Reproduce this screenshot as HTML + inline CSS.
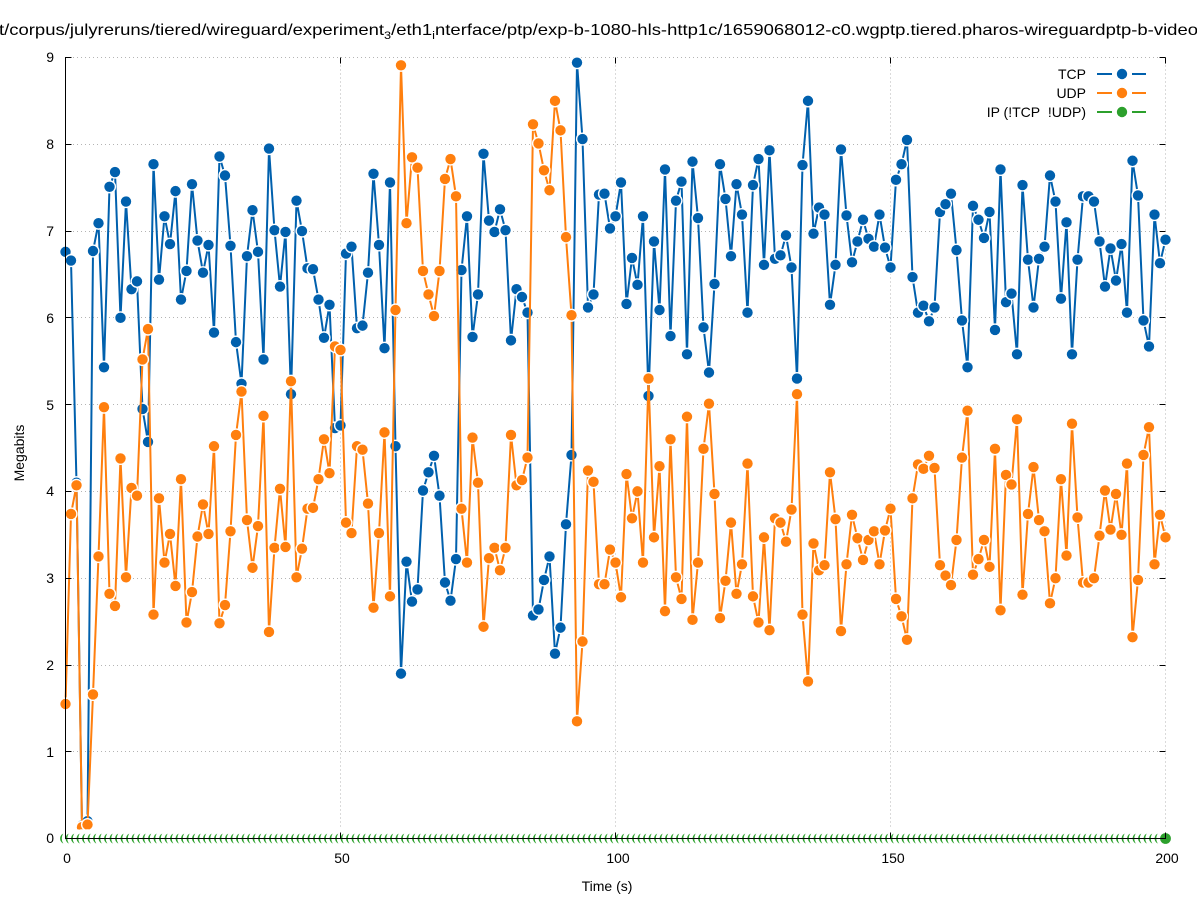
<!DOCTYPE html>
<html><head><meta charset="utf-8"><style>
html,body{margin:0;padding:0;background:#fff;}
svg{display:block;}
text{font-family:"Liberation Sans","DejaVu Sans",sans-serif;fill:#000;}
</style></head><body>
<svg width="1197" height="900" viewBox="0 0 1197 900" xmlns="http://www.w3.org/2000/svg">
<defs>
<marker id="mb" markerUnits="userSpaceOnUse" refX="0" refY="0" markerWidth="1" markerHeight="1" overflow="visible" style="overflow:visible"><g transform="scale(0.181818,-0.0115234)"><circle r="6.6" fill="#fff"/><circle r="5.2" fill="#0060ad"/></g></marker>
<marker id="mo" markerUnits="userSpaceOnUse" refX="0" refY="0" markerWidth="1" markerHeight="1" overflow="visible" style="overflow:visible"><g transform="scale(0.181818,-0.0115234)"><circle r="6.6" fill="#fff"/><circle r="5.2" fill="#ff7f0e"/></g></marker>
<marker id="mg" markerUnits="userSpaceOnUse" refX="0" refY="0" markerWidth="1" markerHeight="1" overflow="visible" style="overflow:visible"><g transform="scale(0.181818,-0.0115234)"><circle r="9.2" fill="#fff"/><circle r="5.4" fill="#2ca02c"/></g></marker>
</defs>
<rect width="1197" height="900" fill="#fff"/>
<!-- title -->
<text x="-1" y="35" font-size="16" textLength="1199" lengthAdjust="spacingAndGlyphs">t/corpus/julyreruns/tiered/wireguard/experiment<tspan dy="4" font-size="11">3</tspan><tspan dy="-4">/eth1</tspan><tspan dy="4" font-size="11">i</tspan><tspan dy="-4">nterface/ptp/exp-b-1080-hls-http1c/1659068012-c0.wgptp.tiered.pharos-wireguardptp-b-video</tspan></text>
<!-- grid -->
<g stroke="#b4b4b4" stroke-width="1" stroke-dasharray="1,3" fill="none">
<line x1="65" y1="751.5" x2="1165" y2="751.5"/>
<line x1="65" y1="665.5" x2="1165" y2="665.5"/>
<line x1="65" y1="578.5" x2="1165" y2="578.5"/>
<line x1="65" y1="491.5" x2="1165" y2="491.5"/>
<line x1="65" y1="404.5" x2="1165" y2="404.5"/>
<line x1="65" y1="317.5" x2="1165" y2="317.5"/>
<line x1="65" y1="231.5" x2="1165" y2="231.5"/>
<line x1="65" y1="144.5" x2="1165" y2="144.5"/>
<line x1="65" y1="57.5" x2="1165" y2="57.5"/>
<line x1="340.5" y1="57.5" x2="340.5" y2="838.5"/>
<line x1="615.5" y1="57.5" x2="615.5" y2="838.5"/>
<line x1="890.5" y1="57.5" x2="890.5" y2="838.5"/>
<line x1="1165.5" y1="57.5" x2="1165.5" y2="838.5"/>
</g>
<!-- data -->
<g transform="translate(65.5 838.5) scale(5.5 -86.78)" fill="none" stroke-linejoin="round">
<polyline vector-effect="non-scaling-stroke" stroke="#0060ad" stroke-width="2" marker-start="url(#mb)" marker-mid="url(#mb)" marker-end="url(#mb)" points="0,6.76 1,6.66 2,4.1 3,0.15 4,0.2 5,6.77 6,7.09 7,5.43 8,7.51 9,7.68 10,6 11,7.34 12,6.33 13,6.42 14,4.95 15,4.57 16,7.77 17,6.44 18,7.17 19,6.85 20,7.46 21,6.21 22,6.54 23,7.54 24,6.89 25,6.52 26,6.84 27,5.83 28,7.86 29,7.64 30,6.83 31,5.72 32,5.24 33,6.71 34,7.24 35,6.76 36,5.52 37,7.95 38,7.01 39,6.36 40,6.99 41,5.12 42,7.35 43,7 44,6.57 45,6.56 46,6.21 47,5.77 48,6.15 49,4.73 50,4.76 51,6.74 52,6.82 53,5.88 54,5.91 55,6.52 56,7.66 57,6.84 58,5.65 59,7.56 60,4.52 61,1.9 62,3.19 63,2.73 64,2.87 65,4.01 66,4.22 67,4.41 68,3.95 69,2.95 70,2.74 71,3.22 72,6.55 73,7.17 74,5.78 75,6.27 76,7.89 77,7.12 78,6.99 79,7.25 80,7.01 81,5.74 82,6.33 83,6.24 84,6.06 85,2.57 86,2.64 87,2.98 88,3.25 89,2.13 90,2.43 91,3.62 92,4.42 93,8.94 94,8.06 95,6.12 96,6.27 97,7.42 98,7.43 99,7.03 100,7.17 101,7.56 102,6.16 103,6.69 104,6.38 105,7.17 106,5.1 107,6.88 108,6.09 109,7.71 110,5.79 111,7.35 112,7.57 113,5.58 114,7.8 115,7.15 116,5.89 117,5.37 118,6.39 119,7.77 120,7.37 121,6.71 122,7.54 123,7.19 124,6.06 125,7.53 126,7.83 127,6.61 128,7.93 129,6.68 130,6.72 131,6.95 132,6.58 133,5.3 134,7.76 135,8.5 136,6.97 137,7.27 138,7.19 139,6.15 140,6.61 141,7.94 142,7.18 143,6.64 144,6.88 145,7.13 146,6.91 147,6.82 148,7.19 149,6.81 150,6.58 151,7.59 152,7.77 153,8.05 154,6.47 155,6.06 156,6.14 157,5.96 158,6.12 159,7.22 160,7.31 161,7.43 162,6.78 163,5.97 164,5.43 165,7.29 166,7.13 167,6.92 168,7.22 169,5.86 170,7.71 171,6.18 172,6.28 173,5.58 174,7.53 175,6.67 176,6.12 177,6.68 178,6.82 179,7.64 180,7.34 181,6.22 182,7.1 183,5.58 184,6.67 185,7.4 186,7.4 187,7.34 188,6.88 189,6.36 190,6.8 191,6.43 192,6.85 193,6.06 194,7.81 195,7.41 196,5.97 197,5.67 198,7.19 199,6.63 200,6.9"/>
<polyline vector-effect="non-scaling-stroke" stroke="#ff7f0e" stroke-width="2" marker-start="url(#mo)" marker-mid="url(#mo)" marker-end="url(#mo)" points="0,1.55 1,3.74 2,4.07 3,0.13 4,0.16 5,1.66 6,3.25 7,4.97 8,2.82 9,2.68 10,4.38 11,3.01 12,4.04 13,3.95 14,5.52 15,5.87 16,2.58 17,3.92 18,3.18 19,3.51 20,2.91 21,4.14 22,2.49 23,2.84 24,3.48 25,3.85 26,3.51 27,4.52 28,2.48 29,2.69 30,3.54 31,4.65 32,5.15 33,3.67 34,3.12 35,3.6 36,4.87 37,2.38 38,3.35 39,4.03 40,3.36 41,5.27 42,3.01 43,3.34 44,3.8 45,3.81 46,4.14 47,4.6 48,4.21 49,5.67 50,5.63 51,3.64 52,3.52 53,4.52 54,4.48 55,3.86 56,2.66 57,3.52 58,4.68 59,2.79 60,6.09 61,8.91 62,7.09 63,7.85 64,7.73 65,6.54 66,6.27 67,6.02 68,6.54 69,7.6 70,7.83 71,7.4 72,3.8 73,3.18 74,4.62 75,4.1 76,2.44 77,3.23 78,3.35 79,3.09 80,3.35 81,4.65 82,4.07 83,4.13 84,4.39 85,8.23 86,8.01 87,7.7 88,7.47 89,8.5 90,8.16 91,6.93 92,6.03 93,1.35 94,2.27 95,4.24 96,4.11 97,2.93 98,2.93 99,3.33 100,3.18 101,2.78 102,4.2 103,3.69 104,4 105,3.18 106,5.3 107,3.47 108,4.29 109,2.62 110,4.6 111,3.01 112,2.76 113,4.86 114,2.52 115,3.18 116,4.49 117,5.01 118,3.97 119,2.54 120,2.97 121,3.64 122,2.82 123,3.16 124,4.32 125,2.79 126,2.49 127,3.47 128,2.4 129,3.69 130,3.64 131,3.42 132,3.79 133,5.12 134,2.58 135,1.81 136,3.4 137,3.09 138,3.15 139,4.22 140,3.68 141,2.39 142,3.16 143,3.73 144,3.46 145,3.21 146,3.44 147,3.54 148,3.16 149,3.55 150,3.8 151,2.76 152,2.56 153,2.29 154,3.92 155,4.31 156,4.26 157,4.41 158,4.27 159,3.15 160,3.03 161,2.92 162,3.44 163,4.39 164,4.93 165,3.04 166,3.22 167,3.44 168,3.13 169,4.49 170,2.63 171,4.19 172,4.08 173,4.83 174,2.81 175,3.74 176,4.28 177,3.67 178,3.54 179,2.71 180,3 181,4.14 182,3.26 183,4.78 184,3.7 185,2.95 186,2.95 187,3 188,3.49 189,4.01 190,3.56 191,3.97 192,3.5 193,4.32 194,2.32 195,2.98 196,4.42 197,4.74 198,3.16 199,3.73 200,3.47"/>
<path vector-effect="non-scaling-stroke" stroke="#2ca02c" stroke-width="2" marker-start="url(#mg)" marker-mid="url(#mg)" marker-end="url(#mg)" d="M0 0
h1h1h1h1h1h1h1h1h1h1
h1h1h1h1h1h1h1h1h1h1
h1h1h1h1h1h1h1h1h1h1
h1h1h1h1h1h1h1h1h1h1
h1h1h1h1h1h1h1h1h1h1
h1h1h1h1h1h1h1h1h1h1
h1h1h1h1h1h1h1h1h1h1
h1h1h1h1h1h1h1h1h1h1
h1h1h1h1h1h1h1h1h1h1
h1h1h1h1h1h1h1h1h1h1
h1h1h1h1h1h1h1h1h1h1
h1h1h1h1h1h1h1h1h1h1
h1h1h1h1h1h1h1h1h1h1
h1h1h1h1h1h1h1h1h1h1
h1h1h1h1h1h1h1h1h1h1
h1h1h1h1h1h1h1h1h1h1
h1h1h1h1h1h1h1h1h1h1
h1h1h1h1h1h1h1h1h1h1
h1h1h1h1h1h1h1h1h1h1
h1h1h1h1h1h1h1h1h1h1"/>
</g>
<!-- axes -->
<g stroke="#000" stroke-width="1" fill="none">
<line x1="65.5" y1="57" x2="65.5" y2="839"/>
<line x1="65" y1="838.5" x2="1166" y2="838.5"/>
<path d="M65.5 751.5h6M65.5 665.5h6M65.5 578.5h6M65.5 491.5h6M65.5 404.5h6M65.5 317.5h6M65.5 231.5h6M65.5 144.5h6M65.5 57.5h6"/>
<path d="M1165.5 751.5h-6M1165.5 665.5h-6M1165.5 578.5h-6M1165.5 491.5h-6M1165.5 404.5h-6M1165.5 317.5h-6M1165.5 231.5h-6M1165.5 144.5h-6M1165.5 57.5h-6"/>
<path d="M340.5 838.5v-6M615.5 838.5v-6M890.5 838.5v-6M1165.5 838.5v-6"/>
<path d="M340.5 57.5v6M615.5 57.5v6M890.5 57.5v6M1165.5 57.5v6"/>
</g>
<!-- tick labels -->
<g font-size="14" text-anchor="end">
<text x="54" y="843">0</text>
<text x="54" y="757">1</text>
<text x="54" y="670">2</text>
<text x="54" y="583">3</text>
<text x="54" y="496">4</text>
<text x="54" y="410">5</text>
<text x="54" y="323">6</text>
<text x="54" y="236">7</text>
<text x="54" y="149">8</text>
<text x="54" y="62">9</text>
</g>
<g font-size="14" text-anchor="middle">
<text x="67" y="863">0</text>
<text x="342" y="863">50</text>
<text x="618" y="863">100</text>
<text x="893" y="863">150</text>
<text x="1167" y="863">200</text>
<text x="607" y="891">Time (s)</text>
<text transform="translate(24,453) rotate(-90)">Megabits</text>
</g>
<!-- legend -->
<g font-size="14" text-anchor="end">
<text x="1086" y="79">TCP</text>
<text x="1086" y="98">UDP</text>
<text x="1086" y="117">IP (!TCP&#160; !UDP)</text>
</g>
<g stroke-width="2">
<line x1="1097" y1="74" x2="1112" y2="74" stroke="#0060ad"/>
<line x1="1132" y1="74" x2="1146" y2="74" stroke="#0060ad"/>
<line x1="1097" y1="93" x2="1112" y2="93" stroke="#ff7f0e"/>
<line x1="1132" y1="93" x2="1146" y2="93" stroke="#ff7f0e"/>
<line x1="1097" y1="112" x2="1112" y2="112" stroke="#2ca02c"/>
<line x1="1132" y1="112" x2="1146" y2="112" stroke="#2ca02c"/>
</g>
<circle cx="1122" cy="74" r="5.2" fill="#0060ad"/>
<circle cx="1122" cy="93" r="5.2" fill="#ff7f0e"/>
<circle cx="1122" cy="112" r="5.2" fill="#2ca02c"/>
</svg>
</body></html>
